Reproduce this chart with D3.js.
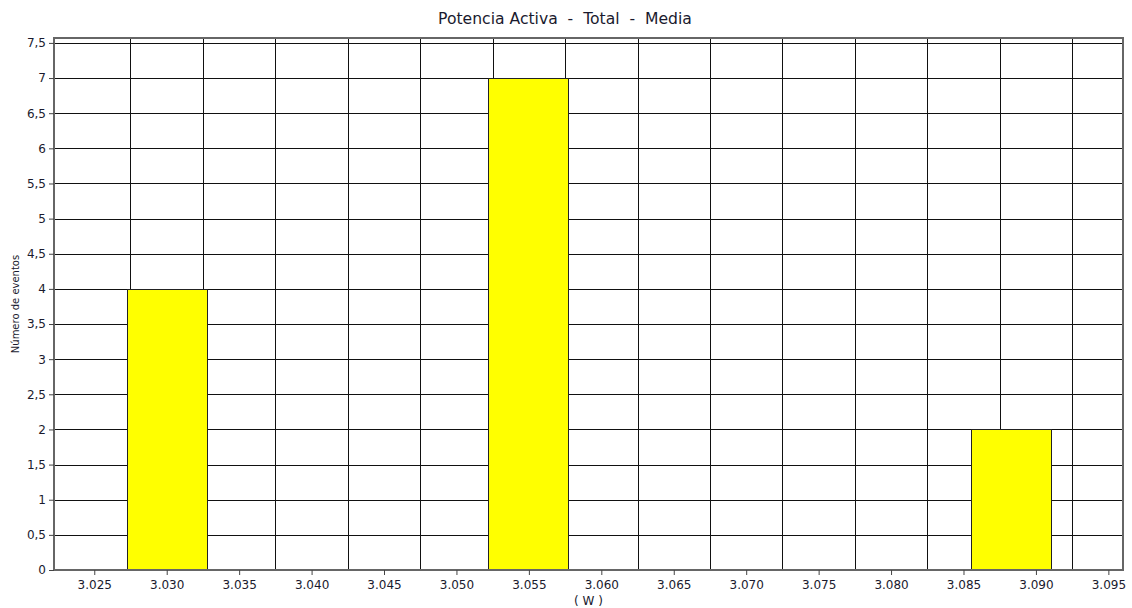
<!DOCTYPE html>
<html><head><meta charset="utf-8">
<script src="https://cdn.jsdelivr.net/npm/d3@7"></script>
<style>
body{margin:0;background:#fff;}
text{font-family:Tahoma,"DejaVu Sans",sans-serif;fill:#1a1a2e;}
</style></head>
<body><svg id="c" width="1132" height="608"></svg>
<script>
// Data
const title = "Potencia Activa  -  Total  -  Media";
const yLabel = "Número de eventos";
const xLabel = "( W )";
const binStart = [3.02724, 3.05216, 3.08550];
const binEnd   = [3.03276, 3.05772, 3.09102];
const counts   = [4, 7, 2];
const xTicks = [3.025,3.030,3.035,3.040,3.045,3.050,3.055,3.060,3.065,3.070,3.075,3.080,3.085,3.090,3.095];
const xGrid  = [3.0275,3.0325,3.0375,3.0425,3.0475,3.0525,3.0575,3.0625,3.0675,3.0725,3.0775,3.0825,3.0875,3.0925];
const yTicks = [0,0.5,1,1.5,2,2.5,3,3.5,4,4.5,5,5.5,6,6.5,7,7.5];
const xDomain = [3.02222, 3.09601];
const yDomain = [0, 7.57];

const svg = d3.select("#c");
const L=54, R=1123, T=38, B=570;
const x = d3.scaleLinear().domain(xDomain).range([L,R]);
const y = d3.scaleLinear().domain(yDomain).range([B,T]);
const fmtY = d => String(d).replace(".", ",");
const fmtX = d => d.toFixed(3);

// grid
svg.append("g").selectAll("line").data(yTicks).join("line")
  .attr("x1",L).attr("x2",R).attr("y1",d=>Math.round(y(d))+0.5).attr("y2",d=>Math.round(y(d))+0.5)
  .attr("stroke","#111").attr("stroke-width",1);
svg.append("g").selectAll("line").data(xGrid).join("line")
  .attr("y1",T).attr("y2",B).attr("x1",d=>Math.round(x(d))+0.5).attr("x2",d=>Math.round(x(d))+0.5)
  .attr("stroke","#111").attr("stroke-width",1);

// bars
svg.append("g").selectAll("rect").data(counts).join("rect")
  .attr("x",(d,i)=>Math.round(x(binStart[i]))+0.5)
  .attr("width",(d,i)=>Math.round(x(binEnd[i]))-Math.round(x(binStart[i])))
  .attr("y",d=>Math.round(y(d))+0.5)
  .attr("height",d=>Math.round(y(0))-Math.round(y(d)))
  .attr("fill","#ffff00").attr("stroke","#222").attr("stroke-width",1);

// frame
svg.append("rect").attr("x",L).attr("y",T).attr("width",R-L).attr("height",B-T)
  .attr("fill","none").attr("stroke","#666").attr("stroke-width",2);

// axes
const ya = d3.axisLeft(y).tickValues(yTicks).tickFormat(fmtY).tickSize(5).tickPadding(3);
const gy = svg.append("g").attr("transform",`translate(${L},0)`).call(ya);
gy.select(".domain").remove();
gy.selectAll(".tick line").attr("stroke","#444");
gy.selectAll("text").style("font-size","12px").attr("fill","#1a1a2e");

const xa = d3.axisBottom(x).tickValues(xTicks).tickFormat(fmtX).tickSize(5).tickPadding(5);
const gx = svg.append("g").attr("transform",`translate(0,${B})`).call(xa);
gx.select(".domain").remove();
gx.selectAll(".tick line").attr("stroke","#444");
gx.selectAll("text").style("font-size","12px").attr("fill","#1a1a2e");

// titles
svg.append("text").attr("x",565).attr("y",24).attr("text-anchor","middle")
  .style("font-size","15.6px").style("white-space","pre").attr("xml:space","preserve").text(title);
svg.append("text").attr("transform",`translate(19,${(T+B)/2}) rotate(-90)`).attr("text-anchor","middle")
  .style("font-size","10px").text(yLabel);
svg.append("text").attr("x",(L+R)/2).attr("y",605).attr("text-anchor","middle")
  .style("font-size","12px").style("white-space","pre").attr("xml:space","preserve").text(xLabel);
</script></body></html>
